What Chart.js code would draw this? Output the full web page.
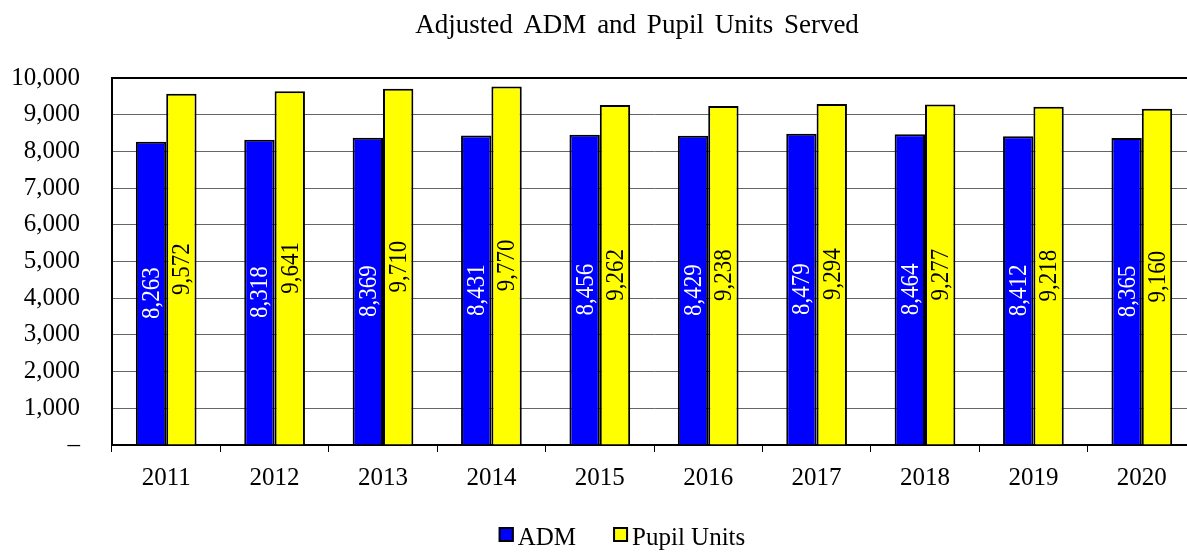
<!DOCTYPE html>
<html>
<head>
<meta charset="utf-8">
<script src="https://cdn.jsdelivr.net/npm/chart.js@4"></script>
<style>
  html, body { margin: 0; padding: 0; background: #fff; overflow: hidden; }
  #wrap { width: 1196px; height: 552px; }
</style>
</head>
<body>
<div id="wrap"><canvas id="chart" width="1196" height="552"></canvas></div>
<script>
const years = ['2011', '2012', '2013', '2014', '2015', '2016', '2017', '2018', '2019', '2020']
const adm = [8263, 8318, 8369, 8431, 8456, 8429, 8479, 8464, 8412, 8365]
const pupilUnits = [9572, 9641, 9710, 9770, 9262, 9238, 9294, 9277, 9218, 9160]
const yTicks = [0, 1000, 2000, 3000, 4000, 5000, 6000, 7000, 8000, 9000, 10000]
const chartTitle = 'Adjusted ADM and Pupil Units Served'

const serif = "'Liberation Serif', 'Times New Roman', serif"
const fmt = v => v === 0 ? '\u2013' : v.toLocaleString('en-US')

// vertical value labels inside each bar
const barLabels = {
  id: 'barLabels',
  afterDatasetsDraw(chart) {
    const ctx = chart.ctx
    chart.data.datasets.forEach((ds, i) => {
      chart.getDatasetMeta(i).data.forEach((bar, j) => {
        const cy = (bar.y + bar.base) / 2
        ctx.save()
        ctx.translate(bar.x, cy)
        ctx.rotate(-Math.PI / 2)
        ctx.scale(1, 1.12)
        ctx.font = '23px ' + serif
        ctx.fillStyle = ds.labelColor
        ctx.textAlign = 'center'
        ctx.textBaseline = 'middle'
        ctx.fillText(fmt(ds.data[j]), 0, 1)
        ctx.restore()
      })
    })
  }
}

// title + legend drawn by hand (box sits right against the text like the original)
const decor = {
  id: 'decor',
  afterDraw(chart) {
    const ctx = chart.ctx
    ctx.save()
    ctx.fillStyle = '#000'
    ctx.font = '27px ' + serif
    if ('wordSpacing' in ctx) ctx.wordSpacing = '4px'
    ctx.textAlign = 'center'
    ctx.textBaseline = 'alphabetic'
    ctx.fillText(chartTitle, 637, 33)
    if ('wordSpacing' in ctx) ctx.wordSpacing = '0px'

    ctx.font = '25px ' + serif
    ctx.textAlign = 'left'
    const box = 15, gapText = 4, gapItem = 37
    const items = chart.data.datasets.map(ds => ({ ds, w: box + gapText + ctx.measureText(ds.label).width }))
    const total = items.reduce((s, it) => s + it.w, 0) + gapItem * (items.length - 1)
    let x = 622 - total / 2
    items.forEach(it => {
      ctx.fillStyle = it.ds.backgroundColor
      ctx.fillRect(x, 527, box, box)
      ctx.lineWidth = 2
      ctx.strokeStyle = '#000'
      ctx.strokeRect(x + 1, 528, box - 2, box - 2)
      ctx.fillStyle = '#000'
      ctx.fillText(it.ds.label, x + box + gapText, 545)
      x += it.w + gapItem
    })
    ctx.restore()
  }
}

new Chart('chart', {
  type: 'bar',
  data: {
    labels: years,
    datasets: [
      { label: 'ADM', data: adm, backgroundColor: '#0000ff', borderColor: '#000', borderWidth: 2, labelColor: '#fff' },
      { label: 'Pupil Units', data: pupilUnits, backgroundColor: '#ffff00', borderColor: '#000', borderWidth: 2, labelColor: '#000' }
    ]
  },
  options: {
    responsive: false,
    animation: false,
    devicePixelRatio: 1,
    categoryPercentage: 0.56,
    barPercentage: 1.0,
    layout: { padding: { left: 0, right: 0, top: 78, bottom: 57 } },
    plugins: {
      tooltip: { enabled: false },
      title: { display: false },
      legend: { display: false }
    },
    scales: {
      x: {
        offset: true,
        grid: { drawOnChartArea: false, drawTicks: true, tickLength: 7, color: '#000', offset: true },
        border: { color: '#000', width: 2 },
        ticks: { color: '#000', font: { family: serif, size: 25 }, padding: 11 },
        afterFit: s => { s.height = 50 }
      },
      y: {
        min: 0,
        max: 10000,
        afterBuildTicks: s => { s.ticks = yTicks.map(v => ({ value: v })) },
        grid: {
          drawTicks: false,
          color: c => c.tick && c.tick.value === 10000 ? '#000' : '#666',
          lineWidth: c => c.tick && c.tick.value === 10000 ? 2 : 1
        },
        border: { color: '#000', width: 2 },
        ticks: { color: '#000', font: { family: serif, size: 25 }, padding: 32, callback: v => fmt(v) },
        afterFit: s => { s.width = 112 }
      }
    }
  },
  plugins: [barLabels, decor]
})
</script>
</body>
</html>
